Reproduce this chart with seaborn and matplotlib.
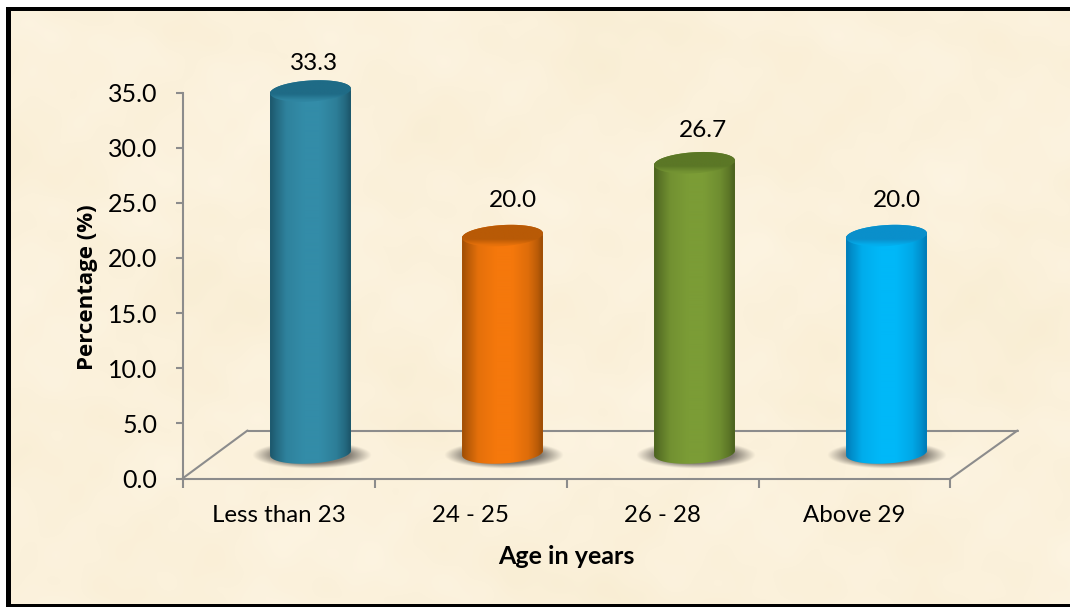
import numpy as np
import pandas as pd
import matplotlib
matplotlib.use("Agg")
import matplotlib.pyplot as plt
from matplotlib.patches import Rectangle
from matplotlib.path import Path
from matplotlib.transforms import Affine2D, IdentityTransform
from matplotlib.colors import to_rgb
import seaborn as sns

# Survey values
age_groups = ["Less than 23", "24 - 25", "26 - 28", "Above 29"]
percentages = [33.3, 20.0, 26.7, 20.0]

# Per-bar colours: main body, shaded edge, top cap
body_colours = ["#338CA8", "#F5780C", "#7B9C36", "#00B8F8"]
edge_colours = ["#1B5468", "#9A4C05", "#495F1E", "#0078B4"]
cap_colours = ["#1F6B86", "#B85A06", "#5B7726", "#0A8FCB"]
label_offsets = [(4, 28), (10, 35), (8, 32), (10, 35)]

W, H = 1070, 607
DPI = 100
GREY = "#8C8C8C"
FONT = "Lato"

sns.set_theme(style="white")
plt.rcParams["font.family"] = [FONT, "DejaVu Sans"]
plt.rcParams["text.color"] = "black"

fig = plt.figure(figsize=(W / DPI, H / DPI), dpi=DPI, facecolor="white")


def py(y):
    """Pixel row counted from the top -> display y."""
    return H - y


# Parchment backdrop with a black frame on the left, top and bottom
bg = fig.add_axes([0, 0, 1, 1], zorder=0)
bg.set_axis_off()
yy, xx = np.mgrid[0:H, 0:W]
mottle = (
    np.sin(xx / 61.0 + 1.3 + np.sin(yy / 47.0)) * np.sin(yy / 43.0 + 0.4 + np.sin(xx / 71.0))
    + 0.7 * np.sin(xx / 23.0 + yy / 41.0 + 2.1 + 1.5 * np.sin(yy / 31.0)) * np.sin(yy / 19.0 - xx / 53.0)
    + 0.6 * np.sin(xx / 113.0 - 0.9) * np.sin(yy / 89.0 + 1.7)
    + 0.25 * np.sin(xx / 7.3 + 0.5) * np.sin(yy / 9.1 + 2.2)
)
paper = np.dstack([
    251 + 0.8 * mottle,
    241 + 1.5 * mottle,
    219 + 3.2 * mottle,
]).clip(0, 255).astype(np.uint8)
bg.imshow(paper, extent=(0, W, 0, H), origin="upper", aspect="auto", zorder=0)
bg.set_xlim(0, W)
bg.set_ylim(H, 0)
for rect in [(0, 0, W, 7), (0, 0, 6, H)]:
    bg.add_patch(Rectangle(rect[:2], rect[2], rect[3], fc="white", ec="none", zorder=1))
for rect in [(6, 7, W - 6, 3.5), (6, 7, 5, H - 7), (6, 603.5, W - 6, 3.5)]:
    bg.add_patch(Rectangle(rect[:2], rect[2], rect[3], fc="black", ec="none", zorder=2))

# Plot axes: the frontal plane of the chart
left, right, top, bottom = 182.5, 950.5, 92.5, 478.5
ax = fig.add_axes([left / W, (H - bottom) / H, (right - left) / W, (bottom - top) / H], zorder=1)
ax.patch.set_alpha(0)

df = pd.DataFrame({"age": age_groups, "pct": percentages})
sns.barplot(data=df, x="age", y="pct", hue="age", palette=body_colours, legend=False,
            width=81 / 192, ax=ax, saturation=1, linewidth=0, zorder=3)
ax.set_xlim(-0.5, 3.5)
ax.set_ylim(0, 35)

ax.set_yticks(np.arange(0, 36, 5))
ax.set_yticklabels([f"{v:.1f}" for v in np.arange(0, 36, 5)])
ax.set_xticks(range(len(age_groups)))
ax.set_xticklabels(age_groups)
ax.set_xticks(np.arange(-0.5, 4, 1), minor=True)
ax.tick_params(axis="x", which="major", length=0, pad=19, labelsize=17.3, labelcolor="black")
ax.tick_params(axis="x", which="minor", length=6.5, width=1.5, color=GREY, bottom=True)
ax.tick_params(axis="y", length=5, width=1.5, color=GREY, pad=13, labelsize=18,
               labelcolor="black", left=True)
for side in ("top", "right"):
    ax.spines[side].set_visible(False)
for side in ("left", "bottom"):
    ax.spines[side].set_color(GREY)
    ax.spines[side].set_linewidth(1.5)

fig.text(87 / W, 1 - 287 / H, "Percentage (%)", rotation=90, ha="center", va="center",
         fontsize=16, fontweight="bold", color="black", family=["Open Sans", "DejaVu Sans"])
fig.text(566 / W, 1 - 556 / H, "Age in years", ha="center", va="center",
         fontsize=18, fontweight="bold", color="black")

# Floor of the 3-D plot area, drawn behind the cylinders
floor_back = 430.5
depth = 65
for xs, ys in [((left, left + depth), (bottom, floor_back)),
               ((left + depth, right + depth + 2), (floor_back, floor_back)),
               ((right + depth + 2, right), (floor_back, bottom))]:
    ax.plot(xs, [py(v) for v in ys], transform=IdentityTransform(),
            color=GREY, lw=1.5, zorder=1, clip_on=False)

# The cylinders sit part-way into the floor, with a slightly compressed value scale
x_shift, base_row = 32.0, 453.0
y_scale = (453.0 - 91.0) / 33.3 / ((bottom - top) / 35)
y0 = py(bottom)
cylinder = ax.transData + Affine2D().translate(0, -y0).scale(1, y_scale).translate(x_shift, py(base_row))

TILT = np.deg2rad(3.5)
CAP_B = 10.5


def ellipse_points(cx, cy, a, b, t):
    ex, ey = a * np.cos(t), b * np.sin(t)
    return np.column_stack([cx + ex * np.cos(TILT) - ey * np.sin(TILT),
                            cy + ex * np.sin(TILT) + ey * np.cos(TILT)])


def mix(c1, c2, f):
    return (1 - f) * np.array(to_rgb(c1)) + f * np.array(to_rgb(c2))


def paint(pixels, extent, zorder, clip_path=None):
    """Place an image by pixel extent; it may reach past the axes box."""
    im = ax.imshow(pixels, extent=extent, origin="lower", transform=IdentityTransform(),
                   aspect="auto", zorder=zorder, interpolation="bilinear")
    im.set_clip_box(fig.bbox)
    if clip_path is not None:
        im.set_clip_path(clip_path, IdentityTransform())
    return im


for i, (bar, value) in enumerate(zip(ax.patches, percentages)):
    x0, w = bar.get_x(), bar.get_width()
    (L, yb), (R, yt) = cylinder.transform([(x0, 0), (x0 + w, value)])
    cx, a = (L + R) / 2, (R - L) / 2

    # Soft contact shadow on the floor
    sx, sy = cx + 1, yb - 2
    gy, gx = np.mgrid[sy - 18:sy + 18:72j, sx - 68:sx + 68:272j]
    dist = np.hypot((gx - sx) / 57.0, (gy - sy) / 13.0)
    alpha = 0.8 * np.clip((1.05 - dist) / 0.4, 0, 1)
    shadow = np.dstack([np.full_like(alpha, 0.38), np.full_like(alpha, 0.36),
                        np.full_like(alpha, 0.33), alpha])
    paint(shadow, (sx - 68, sx + 68, sy - 18, sy + 18), 2)

    # Outline of the cylinder: lower half of the base ellipse, upper half of the cap
    lower = ellipse_points(cx, yb, a, CAP_B, np.linspace(np.pi, 2 * np.pi, 80))
    upper = ellipse_points(cx, yt, a, CAP_B, np.linspace(0, np.pi, 80))
    body_path = Path(np.vstack([lower, upper, lower[:1]]), closed=True)

    bar.set_transform(cylinder)
    bar.set_clip_box(fig.bbox)
    bar.set_clip_path(body_path, IdentityTransform())

    # Horizontal shading across the round surface
    u = np.linspace(0, 1, 162)
    shade = np.interp(u, [0, 0.07, 0.2, 0.42, 0.62, 0.82, 0.93, 1],
                      [0.05, 0.35, 0.82, 1, 1, 0.75, 0.38, 0.0])
    strip = np.array([mix(edge_colours[i], body_colours[i], f) for f in shade])[None, :, :]
    paint(strip, (L, R, yb - CAP_B - 4, yt + CAP_B + 4), 3.1, body_path)

    # Cap: dark face fading into a soft bevel towards the front edge
    cap_path = Path(ellipse_points(cx, yt, a, CAP_B, np.linspace(0, 2 * np.pi, 160)), closed=True)
    v = np.linspace(0, 1, 48)
    blend = np.interp(v, [0, 0.12, 0.34, 1], [0.85, 0.75, 0.0, 0.0])
    cap_grad = np.array([mix(cap_colours[i], body_colours[i], f) for f in blend])[:, None, :]
    paint(cap_grad, (L, R, yt - CAP_B - 2, yt + CAP_B + 3), 3.2, cap_path)

    # Value label above the cap
    dx, dy = label_offsets[i]
    ax.text(cx + dx, yt + dy, f"{value:.1f}", transform=IdentityTransform(), ha="center",
            va="center", fontsize=17.6, color="black", clip_on=False, zorder=4)

ax.set_xlim(-0.5, 3.5)
ax.set_ylim(0, 35)
ax.set_xlabel("")
ax.set_ylabel("")

fig.savefig("out.png", dpi=DPI, facecolor="white")
